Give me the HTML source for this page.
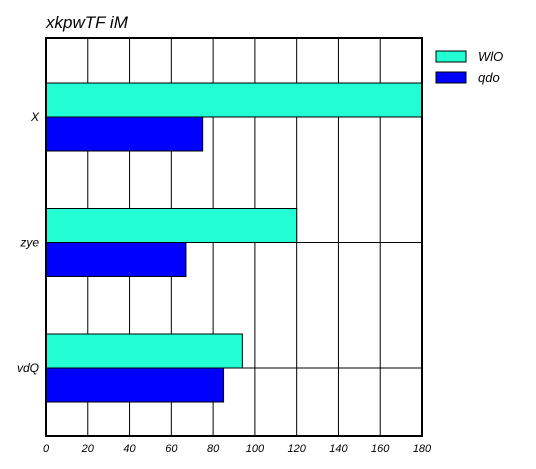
<!DOCTYPE html>
<html><head><meta charset="utf-8"><style>
body{margin:0;background:#fff;}
svg{display:block;font-family:"Liberation Sans",sans-serif;font-style:italic;}
</style></head><body>
<svg id="c" width="536" height="469">
<text x="46" y="28" font-size="17">xkpwTF iM</text>
<g id="grid"></g><g id="bars"></g><g id="ticks"></g>
<rect x="46" y="38" width="376" height="398" fill="none" stroke="#000" stroke-width="2"/>
<g>
<rect x="436" y="51" width="30" height="11" fill="#22ffd5" stroke="#000"/>
<text x="478" y="61" font-size="13">WlO</text>
<rect x="436" y="72" width="30" height="11" fill="#0000ff" stroke="#000"/>
<text x="478" y="82" font-size="13">qdo</text>
</g>
</svg>
<script>
const categories=["X","zye","vdQ"];
const wloValues=[180,120,94];
const qdoValues=[75,67,85];
const xTicks=[0,20,40,60,80,100,120,140,160,180];
const ns="http://www.w3.org/2000/svg";
const L=46,R=422,T=38,B=436,bh=34;
const xs=v=>L+(v/180)*(R-L);
const yc=i=>117+125.5*i;
function mk(t,a,p){const e=document.createElementNS(ns,t);for(const k in a)e.setAttribute(k,a[k]);p.appendChild(e);return e;}
const g=document.getElementById('grid'),b=document.getElementById('bars'),tk=document.getElementById('ticks');
xTicks.forEach(v=>{
 const l=mk('line',{x1:xs(v),x2:xs(v),y1:T,y2:B,stroke:'#000','stroke-width':1},g);
 
 
 const t=mk('text',{x:xs(v),y:452,'font-size':11,'text-anchor':'middle'},tk);t.textContent=v;
 
 
});
categories.forEach((c,i)=>{
 const y=yc(i);
 const l=mk('line',{x1:L,x2:R,y1:y,y2:y,stroke:'#000','stroke-width':1},g);
 
 
 const r1=mk('rect',{x:L,y:y-bh,width:xs(wloValues[i])-L,height:bh,fill:'#22ffd5',stroke:'#000','stroke-width':1},b);
 
 
 const r2=mk('rect',{x:L,y:y,width:xs(qdoValues[i])-L,height:bh,fill:'#0000ff',stroke:'#000','stroke-width':1},b);
 
 
 const t=mk('text',{x:39,y:y+4,'font-size':12,'text-anchor':'end'},tk);t.textContent=c;
 
 
});
</script>
</body></html>
